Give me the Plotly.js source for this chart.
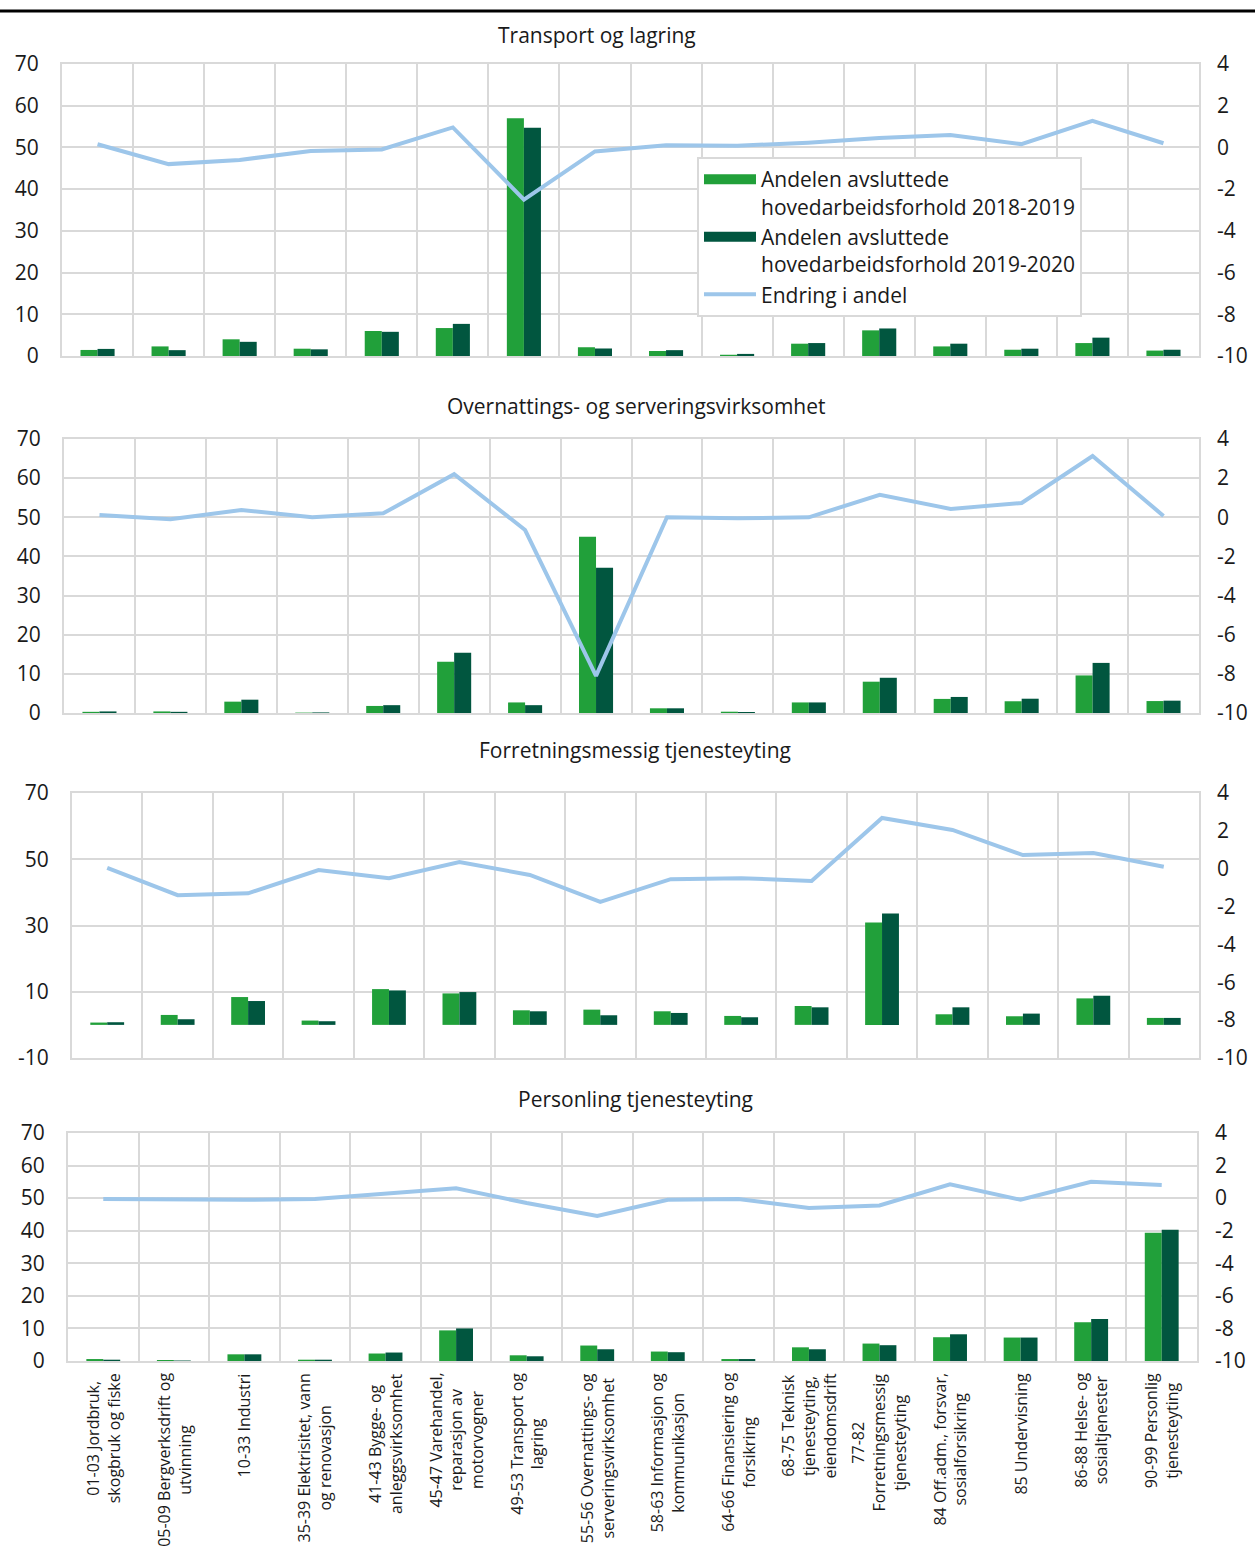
<!DOCTYPE html>
<html><head><meta charset="utf-8">
<script src="https://cdn.plot.ly/plotly-3.0.1.min.js"></script>
<style>html,body{margin:0;padding:0;background:#fff}</style>
</head><body><div id="chart" style="width:1255px;height:1546px"></div>
<script>
// ---- data ----
const categories = [
  "01-03 Jordbruk,<br>skogbruk og fiske",
  "05-09 Bergverksdrift og<br>utvinning",
  "10-33 Industri",
  "35-39 Elektrisitet, vann<br>og renovasjon",
  "41-43 Bygge- og<br>anleggsvirksomhet",
  "45-47 Varehandel,<br>reparasjon av<br>motorvogner",
  "49-53 Transport og<br>lagring",
  "55-56 Overnattings- og<br>serveringsvirksomhet",
  "58-63 Informasjon og<br>kommunikasjon",
  "64-66 Finansiering og<br>forsikring",
  "68-75 Teknisk<br>tjenesteyting,<br>eiendomsdrift",
  "77-82<br>Forretningsmessig<br>tjenesteyting",
  "84 Off.adm., forsvar,<br>sosialforsikring",
  "85 Undervisning",
  "86-88 Helse- og<br>sosialtjenester",
  "90-99 Personlig<br>tjenesteyting"
];
const panelTitles = ["Transport og lagring", "Overnattings- og serveringsvirksomhet",
  "Forretningsmessig tjenesteyting", "Personling tjenesteyting"];
const seriesNames = ["Andelen avsluttede<br>hovedarbeidsforhold 2018-2019",
  "Andelen avsluttede<br>hovedarbeidsforhold 2019-2020", "Endring i andel"];

const p1Share1819 = [1.45, 2.3, 4.0, 1.75, 6.0, 6.7, 57.0, 2.1, 1.2, 0.3, 2.95, 6.15, 2.3, 1.5, 3.1, 1.3];
const p1Share1920 = [1.7, 1.4, 3.4, 1.6, 5.8, 7.7, 54.7, 1.8, 1.4, 0.5, 3.1, 6.6, 2.95, 1.75, 4.4, 1.5];
const p1Change    = [0.15, -0.8, -0.6, -0.17, -0.1, 0.96, -2.5, -0.19, 0.1, 0.08, 0.23, 0.45, 0.6, 0.16, 1.28, 0.2];

const p2Share1819 = [0.3, 0.4, 2.9, 0.1, 1.8, 13.1, 2.7, 45.0, 1.2, 0.33, 2.7, 8.0, 3.6, 3.0, 9.6, 3.05];
const p2Share1920 = [0.4, 0.3, 3.4, 0.15, 2.0, 15.4, 2.0, 37.1, 1.2, 0.25, 2.7, 9.0, 4.1, 3.65, 12.8, 3.15];
const p2Change    = [0.12, -0.1, 0.37, 0.0, 0.2, 2.2, -0.65, -8.1, 0.0, -0.05, 0.0, 1.15, 0.43, 0.73, 3.13, 0.07];

const p3Share1819 = [0.7, 3.0, 8.4, 1.3, 10.8, 9.5, 4.4, 4.6, 4.1, 2.7, 5.7, 30.9, 3.2, 2.6, 8.0, 2.1];
const p3Share1920 = [0.8, 1.7, 7.2, 1.1, 10.4, 9.9, 4.1, 2.9, 3.6, 2.3, 5.3, 33.6, 5.3, 3.4, 8.8, 2.1];
const p3Change    = [0.04, -1.4, -1.3, -0.07, -0.5, 0.35, -0.33, -1.75, -0.55, -0.5, -0.65, 2.68, 2.05, 0.72, 0.83, 0.1];

const p4Share1819 = [0.6, 0.3, 2.05, 0.4, 2.3, 9.4, 1.75, 4.75, 2.9, 0.6, 4.2, 5.35, 7.3, 7.2, 11.9, 39.4];
const p4Share1920 = [0.4, 0.15, 2.05, 0.4, 2.6, 10.0, 1.45, 3.6, 2.7, 0.6, 3.6, 4.85, 8.2, 7.2, 12.9, 40.3];
const p4Change    = [-0.05, -0.1, -0.1, -0.05, 0.3, 0.6, -0.3, -1.1, -0.1, -0.05, -0.6, -0.45, 0.85, -0.1, 1.0, 0.8];

const leftTickVals = [[0,10,20,30,40,50,60,70],[0,10,20,30,40,50,60,70],[-10,10,30,50,70],[0,10,20,30,40,50,60,70]];
const rightTickVals = [4,2,0,-2,-4,-6,-8,-10];

// ---- styling / layout ----
const W = 1255, H = 1546;
const px = v => v / W, py = v => 1 - v / H;
const LIGHT = "#21a03a", DARK = "#01563f", BLUE = "#9dc6ea", GRID = "#d9d9d9", TXT = "#1a1a1a";
const FONT = "Open Sans";
const FS = 21;
const hyphen = v => String(v).replace("\u2212", "-");
const panels = [
  {s1: p1Share1819, s2: p1Share1920, ch: p1Change, box: [62, 1199, 64, 356], yr: [0, 70], title: [597, 35]},
  {s1: p2Share1819, s2: p2Share1920, ch: p2Change, box: [64, 1199, 439, 713], yr: [0, 70], title: [636, 406]},
  {s1: p3Share1819, s2: p3Share1920, ch: p3Change, box: [72, 1199, 793, 1058], yr: [-10, 70], title: [635, 750]},
  {s1: p4Share1819, s2: p4Share1920, ch: p4Change, box: [68, 1197, 1133, 1361], yr: [0, 70], title: [635, 1099]}
];

const traces = [];
// legend-only entries (wide swatches like the original legend)
traces.push({type: "scatter", mode: "lines", x: [null], y: [null], name: seriesNames[0],
  line: {color: LIGHT, width: 13}, hoverinfo: "skip"});
traces.push({type: "scatter", mode: "lines", x: [null], y: [null], name: seriesNames[1],
  line: {color: DARK, width: 13}, hoverinfo: "skip"});

const layout = {
  width: W, height: H, margin: {l: 0, r: 0, t: 0, b: 0},
  paper_bgcolor: "#fff", plot_bgcolor: "#fff",
  font: {family: FONT, size: FS, color: TXT},
  barmode: "group", bargap: 0.52, bargroupgap: 0,
  showlegend: true,
  legend: {
    x: px(697), y: py(157), xanchor: "left", yanchor: "top",
    bgcolor: "#fff", bordercolor: GRID, borderwidth: 2,
    font: {family: FONT, size: FS, color: TXT},
    valign: "top", tracegroupgap: 0, itemwidth: 52
  },
  annotations: [],
  shapes: [{type: "line", xref: "paper", yref: "paper", x0: 0, x1: 1, y0: py(11), y1: py(11),
            line: {color: "#000", width: 3}}]
};

panels.forEach((p, i) => {
  const n = i + 1;
  const xid = n === 1 ? "x" : "x" + n;
  const yL = (2 * n - 1) === 1 ? "y" : "y" + (2 * n - 1);
  const yR = "y" + (2 * n);
  const xkey = n === 1 ? "xaxis" : "xaxis" + n;
  const yLkey = "yaxis" + ((2 * n - 1) === 1 ? "" : (2 * n - 1));
  const yRkey = "yaxis" + (2 * n);
  const [x0, x1, yt, yb] = p.box;

  traces.push({type: "bar", x: categories, y: p.s1, xaxis: xid, yaxis: yL, name: seriesNames[0],
    marker: {color: LIGHT}, showlegend: false, hoverinfo: "skip"});
  traces.push({type: "bar", x: categories, y: p.s2, xaxis: xid, yaxis: yL, name: seriesNames[1],
    marker: {color: DARK}, showlegend: false, hoverinfo: "skip"});
  traces.push({type: "scatter", mode: "lines", x: categories, y: p.ch, xaxis: xid, yaxis: yR, name: seriesNames[2],
    line: {color: BLUE, width: 4}, showlegend: n === 1, hoverinfo: "skip"});

  layout[xkey] = {
    domain: [px(x0), px(x1)], anchor: yL, type: "category", range: [-0.5, categories.length - 0.5],
    tickson: "boundaries", showgrid: true, gridcolor: GRID, gridwidth: 2,
    showline: true, mirror: true, linecolor: GRID, linewidth: 2,
    ticks: "", showticklabels: false, fixedrange: true
  };
  layout[yLkey] = {
    domain: [py(yb), py(yt)], anchor: xid, range: p.yr,
    tickvals: leftTickVals[i], ticktext: leftTickVals[i].map(hyphen),
    showgrid: true, gridcolor: GRID, gridwidth: 2, zeroline: false,
    showline: true, mirror: true, linecolor: GRID, linewidth: 2,
    ticks: "", ticklabelstandoff: 17, tickfont: {family: FONT, size: FS, color: TXT}, fixedrange: true
  };
  layout[yRkey] = {
    overlaying: yL, side: "right", anchor: xid, range: [-10, 4],
    tickvals: rightTickVals, ticktext: rightTickVals.map(hyphen),
    showgrid: false, zeroline: false, showline: false,
    ticks: "", ticklabelstandoff: 17, tickfont: {family: FONT, size: FS, color: TXT}, fixedrange: true
  };
  layout.annotations.push({text: panelTitles[i], xref: "paper", yref: "paper",
    x: px(p.title[0]), y: py(p.title[1]), xanchor: "center", yanchor: "middle", showarrow: false,
    font: {family: FONT, size: FS, color: TXT}});
});

// category labels under the bottom panel, positioned through the x4 category axis
categories.forEach(c => {
  layout.annotations.push({text: c, xref: "x4", yref: "paper", x: c, y: py(1371),
    xanchor: "center", yanchor: "top", textangle: -90, align: "center", showarrow: false,
    font: {family: FONT, size: 16, color: TXT}});
});

Plotly.newPlot("chart", traces, layout, {staticPlot: true, displayModeBar: false});
</script></body></html>
